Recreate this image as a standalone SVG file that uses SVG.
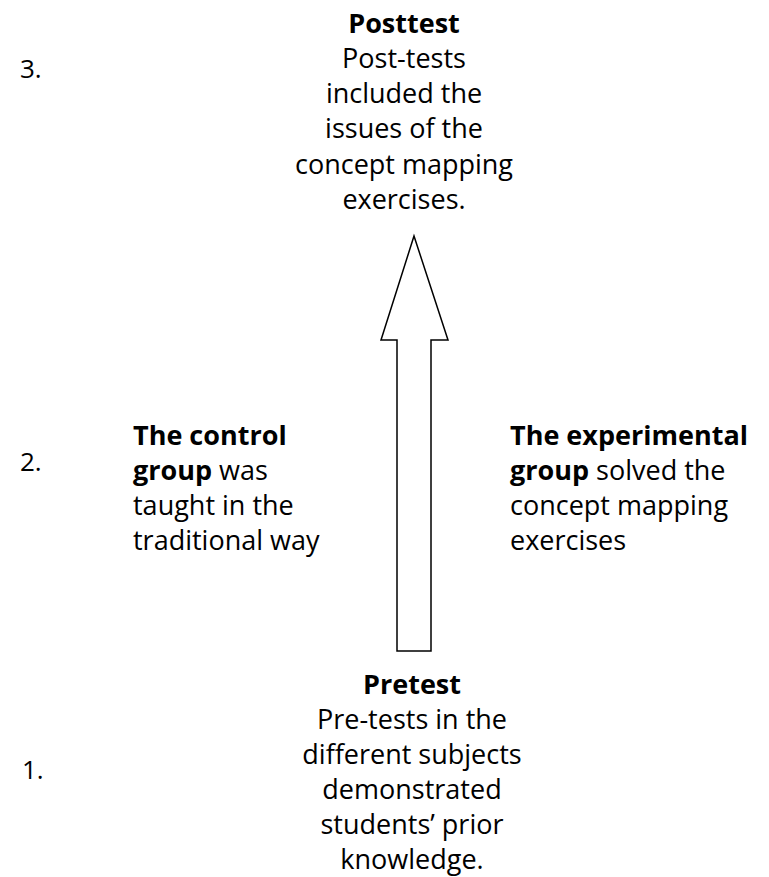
<svg xmlns="http://www.w3.org/2000/svg" width="769" height="877" viewBox="0 0 769 877">
<style>
text{font-family:"Open Sans","Noto Sans","Liberation Sans",sans-serif;font-size:27px;fill:#000}
.c{text-anchor:middle}
.b{font-weight:bold}
.n{font-size:26px}
.arrow{fill:#fff;stroke:#000;stroke-width:1.5;stroke-linejoin:miter}
</style>
<rect width="769" height="877" fill="#fff"/>
<g id="connectors">
<polygon class="arrow" points="414,236 448,340 431,340 431,651 397,651 397,340 381,340"/>
</g>
<g id="step3">
<text class="n" x="20" y="78">3.</text>
</g>
<g id="step2">
<text class="n" x="20" y="471">2.</text>
</g>
<g id="step1">
<text class="n" x="22" y="779">1.</text>
</g>
<g id="posttest">
<text class="c b" x="404" y="33">Posttest</text>
<text class="c" x="404" y="68">Post-tests</text>
<text class="c" x="404" y="103">included the</text>
<text class="c" x="404" y="138">issues of the</text>
<text class="c" x="404" y="174">concept mapping</text>
<text class="c" x="404" y="209">exercises.</text>
</g>
<g id="control">
<text x="133" y="445" class="b">The control</text>
<text x="133" y="480"><tspan class="b">group</tspan> was</text>
<text x="133" y="515">taught in the</text>
<text x="133" y="550">traditional way</text>
</g>
<g id="experimental">
<text x="510" y="445" class="b">The experimental</text>
<text x="510" y="480"><tspan class="b">group</tspan> solved the</text>
<text x="510" y="515">concept mapping</text>
<text x="510" y="550">exercises</text>
</g>
<g id="pretest">
<text class="c b" x="412" y="694">Pretest</text>
<text class="c" x="412" y="729">Pre-tests in the</text>
<text class="c" x="412" y="764">different subjects</text>
<text class="c" x="412" y="799">demonstrated</text>
<text class="c" x="412" y="834">students’ prior</text>
<text class="c" x="412" y="869">knowledge.</text>
</g>
</svg>
